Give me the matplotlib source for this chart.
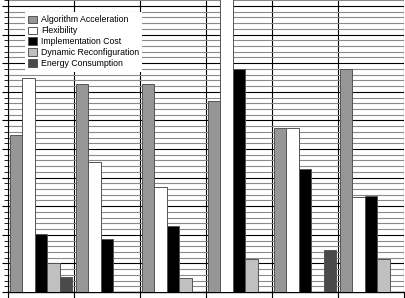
import matplotlib
matplotlib.use("Agg")
import matplotlib.pyplot as plt
import numpy as np
from matplotlib.ticker import MultipleLocator, FuncFormatter

series = ["Algorithm Acceleration", "Flexibility", "Implementation Cost",
          "Dynamic Reconfiguration", "Energy Consumption"]
algorithm_acceleration = [55, 72.6, 72.6, 66.8, 57.4, 77.9]
flexibility = [74.9, 45.3, 36.6, 105, 57.4, 33.3]
implementation_cost = [20.2, 18.5, 23.1, 78, 43, 33.7]
dynamic_reconfiguration = [10.2, 0, 5.0, 11.5, 0, 11.5]
energy_consumption = [5.3, 0, 0, 0, 14.7, 0]
colors = ["#969696", "#ffffff", "#000000", "#c0c0c0", "#4a4a4a"]

plt.rcParams['font.family'] = ['Liberation Sans', 'DejaVu Sans']

fig = plt.figure(figsize=(4.06, 2.98), dpi=100)
W, H = 406, 298
ax = fig.add_axes([8 / W, 6 / H, 396 / W, 292 / H])

data = [algorithm_acceleration, flexibility, implementation_cost,
        dynamic_reconfiguration, energy_consumption]
n = len(algorithm_acceleration)
x = np.arange(n)
bw = 0.188
for k, (name, vals, c) in enumerate(zip(series, data, colors)):
    ax.bar(x + 0.03 + k * bw, vals, width=bw, align='edge', color=c,
           edgecolor='#555555', linewidth=0.7, label=name, zorder=3)

ax.set_xlim(0, n)
ax.set_ylim(0, 102.1)
ax.yaxis.set_major_locator(MultipleLocator(10))
ax.yaxis.set_minor_locator(MultipleLocator(2))
ax.yaxis.set_major_formatter(FuncFormatter(lambda v, p: f"{int(v)}%"))
ax.xaxis.set_major_locator(MultipleLocator(1))
ax.xaxis.set_major_formatter(FuncFormatter(lambda v, p: ""))
ax.grid(which='major', axis='y', color='black', linewidth=0.8, zorder=1)
ax.grid(which='minor', axis='y', color='#8a8a8a', linewidth=0.8, zorder=1)
ax.grid(which='major', axis='x', color='black', linewidth=0.8, zorder=1)
ax.set_axisbelow(True)
ax.tick_params(axis='y', which='major', length=4, labelsize=6.3, pad=2)
ax.tick_params(axis='y', which='minor', length=3)
ax.tick_params(axis='x', which='major', length=4)
for s in ['top', 'right']:
    ax.spines[s].set_visible(False)
ax.spines['left'].set_linewidth(0.8)
ax.spines['bottom'].set_linewidth(1.0)

leg = ax.legend(loc='upper left', bbox_to_anchor=(17 / 396, 1 - 12 / 292),
                fontsize=6.3, frameon=True, fancybox=False, framealpha=1,
                edgecolor='white', handlelength=1.0, handleheight=1.0,
                handletextpad=0.4, labelspacing=0.22, borderpad=0.4,
                borderaxespad=0)
leg.get_frame().set_linewidth(0)
leg.set_zorder(5)

fig.savefig("out.png", dpi=100)
